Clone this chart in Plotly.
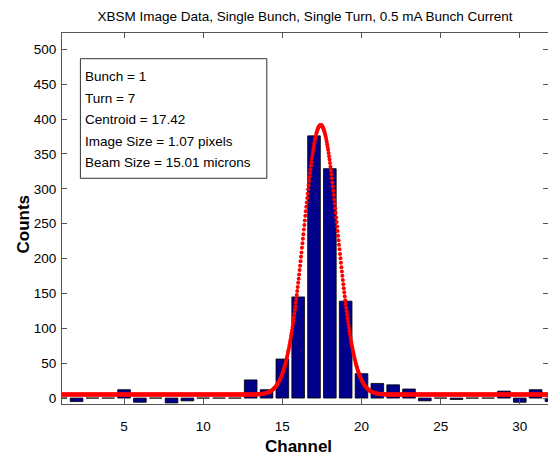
import numpy as np
import plotly.graph_objects as go

# ---------------- data ----------------
channels = list(range(1, 33))
counts = [0, -5, 0, 0, 12, -6, 0, -7, -4, 0, 0, 0, 26, 12, 56, 145,
          376, 329, 139, 35, 21, 19, 13, -4, 0, -2, 0, 0, 10, -6, 12, -5]

# Gaussian fit parameters (as reported in the figure's text box)
fit_centroid = 17.42
fit_sigma = 1.07
fit_amplitude = 386.5
fit_baseline = 5.0
fit_step = 0.03

info_lines = ["Bunch = 1", "Turn = 7", "Centroid = 17.42",
              "Image Size = 1.07 pixels", "Beam Size = 15.01 microns"]
y_ticks = [0, 50, 100, 150, 200, 250, 300, 350, 400, 450, 500]
x_ticks = [5, 10, 15, 20, 25, 30]

title_text = "XBSM Image Data, Single Bunch, Single Turn, 0.5 mA Bunch Current"

fit_x = np.arange(1.0, 32.0 + fit_step, fit_step)
fit_y = fit_baseline + fit_amplitude * np.exp(-(fit_x - fit_centroid) ** 2 / (2 * fit_sigma ** 2))

# ---------------- layout geometry (pixels) ----------------
W, H = 548, 460
ML, MR, MT, MB = 62, 0, 33, 56
PW, PH = W - ML - MR, H - MT - MB


def px(x):
    return (x - ML) / PW


def py(y):
    return (H - MB - y) / PH


FONT = "Liberation Sans, Arial, Helvetica, sans-serif"
AXC = "#555555"

fig = go.Figure()
fig.add_trace(go.Bar(
    x=channels, y=counts, width=0.8,
    marker=dict(color="#00008B", line=dict(color="#000000", width=0.8)),
    showlegend=False, hoverinfo="skip",
))
fig.add_trace(go.Scatter(
    x=fit_x, y=fit_y, mode="markers", yaxis="y2",
    marker=dict(color="#ff0000", size=4.0, line=dict(width=0)),
    showlegend=False, hoverinfo="skip",
))

annotations = []
line_centers = [76.2, 98.6, 119.9, 141.6, 162.6]
for txt, yc in zip(info_lines, line_centers):
    annotations.append(dict(
        x=px(82.5), y=py(yc), xref="paper", yref="paper",
        text=txt, showarrow=False, xanchor="left", yanchor="middle",
        font=dict(family=FONT, size=13.5, color="#000000"),
    ))
annotations.append(dict(
    x=px(298), y=py(447), xref="paper", yref="paper", text="<b>Channel</b>",
    showarrow=False, xanchor="center", yanchor="middle",
    font=dict(family=FONT, size=17, color="#000000"),
))
annotations.append(dict(
    x=px(22.5), y=py(224), xref="paper", yref="paper", text="<b>Counts</b>",
    showarrow=False, xanchor="center", yanchor="middle", textangle=-90,
    font=dict(family=FONT, size=17, color="#000000"),
))

fig.update_layout(
    width=W, height=H,
    margin=dict(l=ML, r=MR, t=MT, b=MB, pad=0),
    paper_bgcolor="white", plot_bgcolor="white",
    bargap=0.2,
    title=dict(text=title_text, x=0.5, xref="paper", xanchor="center",
               y=1 - 16.4 / H, yref="container", yanchor="middle",
               font=dict(family=FONT, size=13.5, color="#000000")),
    xaxis=dict(range=[1.08, 1.08 + PW / 15.83], tickvals=x_ticks,
               ticks="inside", ticklen=5, tickcolor=AXC, tickwidth=1,
               showline=True, linecolor=AXC, linewidth=1, mirror="ticks",
               showgrid=False, zeroline=False, ticklabelstandoff=10,
               tickfont=dict(family=FONT, size=13.5, color="#000000")),
    yaxis=dict(range=[-8.5, 523.5], tickvals=y_ticks,
               ticks="inside", ticklen=5, tickcolor=AXC, tickwidth=1,
               showline=True, linecolor=AXC, linewidth=1, mirror=False,
               showgrid=False, zeroline=False, ticklabelstandoff=2,
               tickfont=dict(family=FONT, size=13.5, color="#000000")),
    yaxis2=dict(overlaying="y", matches="y", side="right", tickvals=y_ticks,
                ticks="inside", ticklen=5, tickcolor=AXC, tickwidth=1,
                showline=False, showgrid=False, zeroline=False,
                showticklabels=False),
    shapes=[dict(type="rect", xref="paper", yref="paper",
                 x0=px(80.4), x1=px(266.8), y0=py(178.3), y1=py(58.7),
                 line=dict(color="#333333", width=1), fillcolor="rgba(0,0,0,0)",
                 layer="above")],
    annotations=annotations,
)

fig.write_html("out.html")
